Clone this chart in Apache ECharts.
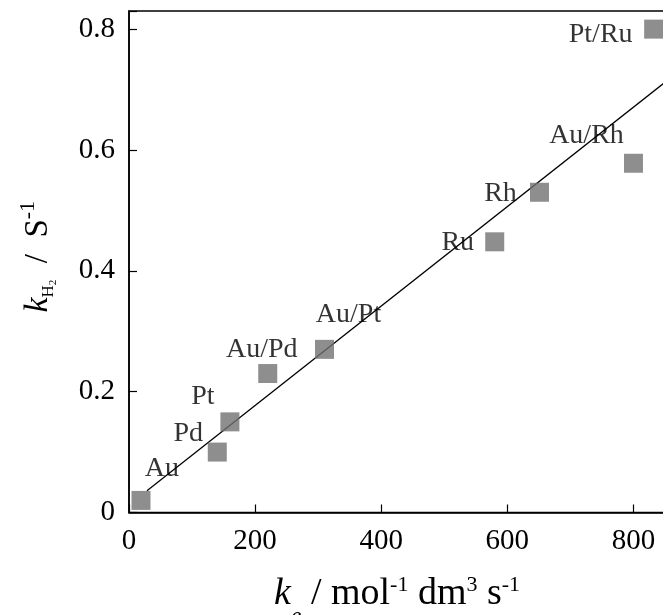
<!DOCTYPE html>
<html>
<head>
<meta charset="utf-8">
<script src="https://cdn.jsdelivr.net/npm/echarts@6/dist/echarts.min.js"></script>
<style>
  html, body { margin: 0; padding: 0; background: #fff; }
  #chart { width: 663px; height: 615px; }
</style>
</head>
<body>
<div id="chart"></div>
<script>
// catalyst data
const catalysts = ['Au', 'Pd', 'Pt', 'Au/Pd', 'Au/Pt', 'Ru', 'Rh', 'Au/Rh', 'Pt/Ru'];
const keValues = [19, 140, 160, 220, 310, 580, 651, 800, 832];
const kH2Values = [0.02, 0.10, 0.15, 0.23, 0.27, 0.448, 0.53, 0.578, 0.80];

// fitted straight line (ends)
const fitKe = [28.5, 850];
const fitKH2 = [0.036, 0.712];

const xTicks = [0, 200, 400, 600, 800];
const yTicks = [0, 0.2, 0.4, 0.6, 0.8];

// where each name sits relative to its square (px)
const labelShift = {
  'Au': [21, -32],
  'Pd': [-29, -18],
  'Pt': [-27, -25],
  'Au/Pd': [-6, -24],
  'Au/Pt': [24, -35],
  'Ru': [-37, 1],
  'Rh': [-39, 1],
  'Au/Rh': [-47, -28],
  'Pt/Ru': [-53, 6]
};

const serif = 'Liberation Serif, Times New Roman, serif';

const points = catalysts.map((name, i) => ({
  name: name,
  value: [keValues[i], kH2Values[i]],
  label: { offset: labelShift[name] }
}));

const chart = echarts.init(document.getElementById('chart'));

chart.setOption({
  animation: false,
  backgroundColor: '#fff',
  grid: {
    left: 129, top: 11, right: -2, bottom: 102.5,
    containLabel: false,
    outerBoundsMode: 'none',
    show: true, borderColor: '#000', borderWidth: 1.5
  },
  xAxis: {
    type: 'value',
    min: 0, max: 850, interval: 200,
    splitLine: { show: false },
    axisLine: { lineStyle: { color: '#000', width: 1.5 } },
    axisTick: { inside: true, length: 8, lineStyle: { color: '#000', width: 1.2 } },
    axisLabel: {
      color: '#000', fontFamily: serif, fontSize: 29, margin: 14,
      formatter: v => (xTicks.includes(v) ? String(v) : '')
    },
    name: '{i|k}{sub|e}{n| / mol}{sup|-1}{n| dm}{sup|3}{n| s}{sup|-1}',
    nameLocation: 'middle',
    nameGap: 62,
    nameTextStyle: {
      rich: {
        i: { fontFamily: serif, fontStyle: 'italic', fontSize: 38, lineHeight: 40, color: '#000' },
        n: { fontFamily: serif, fontSize: 38, lineHeight: 40, color: '#000' },
        sup: { fontFamily: serif, fontSize: 22, lineHeight: 22, verticalAlign: 'top', color: '#000' },
        sub: { fontFamily: serif, fontStyle: 'italic', fontSize: 24, lineHeight: 24, verticalAlign: 'bottom', padding: [0, 0, -14, 0], color: '#000' }
      }
    }
  },
  yAxis: {
    type: 'value',
    min: 0, max: 0.83, interval: 0.2,
    splitLine: { show: false },
    axisLine: { lineStyle: { color: '#000', width: 1.5 } },
    axisTick: { inside: true, length: 8, lineStyle: { color: '#000', width: 1.2 } },
    axisLabel: {
      color: '#000', fontFamily: serif, fontSize: 29, margin: 14,
      formatter: v => {
        const t = yTicks.find(y => Math.abs(y - v) < 1e-6);
        return t === undefined ? '' : String(t);
      }
    },
    name: '{i|k}{h|H}{h2|2}{n|  /  S}{sup|-1}',
    nameLocation: 'middle',
    nameGap: 70,
    nameTextStyle: {
      padding: [0, 0, 0, 10],
      rich: {
        i: { fontFamily: serif, fontStyle: 'italic', fontSize: 34, lineHeight: 42, color: '#000' },
        n: { fontFamily: serif, fontSize: 33, lineHeight: 42, color: '#000' },
        h: { fontFamily: serif, fontSize: 17, lineHeight: 17, verticalAlign: 'bottom', padding: [0, 0, 2, 0], color: '#000' },
        h2: { fontFamily: serif, fontSize: 11, lineHeight: 11, verticalAlign: 'bottom', color: '#000' },
        sup: { fontFamily: serif, fontSize: 22, lineHeight: 22, verticalAlign: 'top', color: '#000' }
      }
    }
  },
  series: [
    {
      type: 'line',
      data: fitKe.map((x, i) => [x, fitKH2[i]]),
      symbol: 'none',
      lineStyle: { color: '#000', width: 1.3 },
      z: 2
    },
    {
      type: 'scatter',
      data: points,
      symbol: 'rect',
      symbolSize: 19,
      itemStyle: { color: '#727272' },
      label: {
        show: true,
        position: 'inside',
        formatter: p => p.name,
        color: '#000',
        fontFamily: serif,
        fontSize: 28
      },
      z: 3
    }
  ]
});

window.addEventListener('resize', () => chart.resize());
</script>
</body>
</html>
